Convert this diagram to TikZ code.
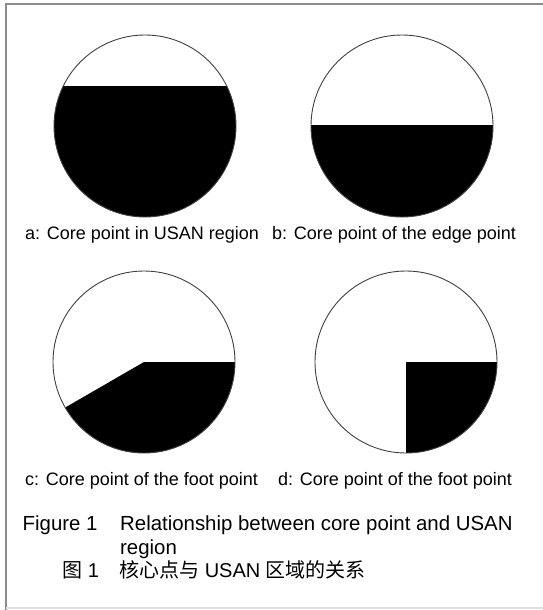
\documentclass[tikz,border=0pt]{standalone}
\usepackage{fontspec}
\setmainfont{Liberation Sans}
\newfontfamily\cjk{Noto Sans CJK SC}
\usetikzlibrary{calc}
\begin{document}
\begin{tikzpicture}[x=1pt,y=-1pt,
  rim/.style={draw=black!75,line width=0.9pt},
  sublabel/.style={anchor=base west,inner sep=0pt,font=\fontsize{18}{20}\selectfont},
  captxt/.style={anchor=base west,inner sep=0pt,font=\fontsize{20.4}{22}\selectfont},
  captxtcn/.style={anchor=base west,inner sep=0pt,font=\fontsize{20}{22}\selectfont}]
\useasboundingbox (0,0) rectangle (543,610);
\fill[white] (0,0) rectangle (543,610);
% frame
\draw[black!45,line width=2pt] (6,610) -- (6,4) -- (543,4);
\draw[black!12,line width=1.5pt] (6,608) -- (543,608);
% centres
\coordinate (ca) at (145,126);
\coordinate (cb) at (402,126);
\coordinate (cc) at (144,362);
\coordinate (cd) at (406,362);
% a
\begin{scope}
\clip (ca) circle[radius=91];
\fill[black] ($(ca)+(-100,-40)$) rectangle ($(ca)+(100,100)$);
\end{scope}
\draw[rim] (ca) circle[radius=91];
% b
\begin{scope}
\clip (cb) circle[radius=91];
\fill[black] ($(cb)+(-100,-1)$) rectangle ($(cb)+(100,100)$);
\end{scope}
\draw[rim] (cb) circle[radius=91];
% c
\begin{scope}
\clip (cc) circle[radius=91];
\fill[black] (cc) -- ++(200,0) -- ++(0,200) -- ++(-400,0) -- ++(0,-84.5) -- cycle;
\end{scope}
\draw[rim] (cc) circle[radius=91];
% d
\begin{scope}
\clip (cd) circle[radius=91];
\fill[black] (cd) rectangle ($(cd)+(100,100)$);
\end{scope}
\draw[rim] (cd) circle[radius=91];
% labels
\node[sublabel] (la) at (25,239) {a: Core point in USAN region};
\node[sublabel] (lb) at (272,239) {b: Core point of the edge point};
\node[sublabel] (lc) at (25,485) {c: Core point of the foot point};
\node[sublabel] (ld) at (278,485) {d: Core point of the foot point};
\node[captxt] (f1) at (22.5,530) {Figure 1};
\node[captxt] (f2) at (120,530) {Relationship between core point and USAN};
\node[captxt] (f3) at (120,554) {region};
\node[captxtcn] (g1) at (62,577) {{\cjk 图} 1};
\node[captxtcn] (g2) at (119,577) {{\cjk 核心点与} USAN {\cjk 区域的关系}};
\end{tikzpicture}
\end{document}
